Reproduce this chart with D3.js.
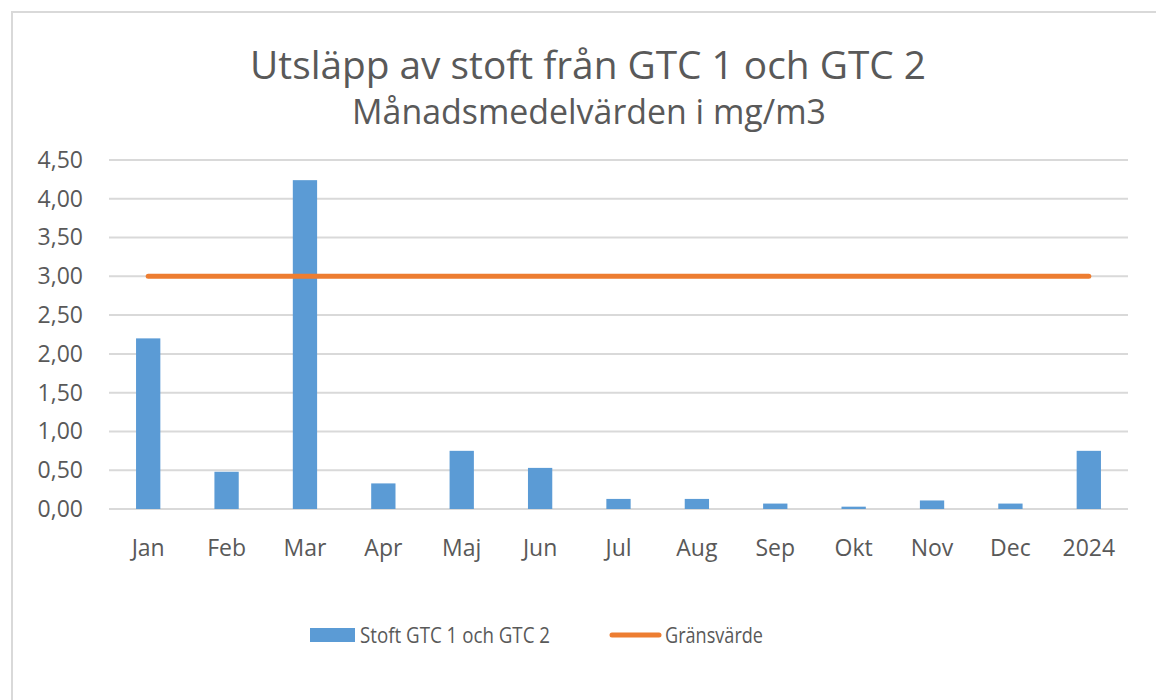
<!DOCTYPE html>
<html>
<head>
<meta charset="utf-8">
<script src="https://cdn.jsdelivr.net/npm/d3@7"></script>
<style>
  body { margin: 0; background: #fff; }
  text { font-family: "Open Sans", "Liberation Sans", sans-serif; fill: #595959; }
</style>
</head>
<body>
<svg id="chart" width="1156" height="700"></svg>
<script>
// Data
const months = ['Jan','Feb','Mar','Apr','Maj','Jun','Jul','Aug','Sep','Okt','Nov','Dec','2024'];
const stoft = [2.20, 0.48, 4.24, 0.33, 0.75, 0.53, 0.13, 0.13, 0.07, 0.03, 0.11, 0.07, 0.75];
const gransvarde = [3,3,3,3,3,3,3,3,3,3,3,3,3];
const yTicks = [0, 0.5, 1, 1.5, 2, 2.5, 3, 3.5, 4, 4.5];

const svg = d3.select('#chart');
const m = {top:160, right:28, bottom:191, left:109},
      w = 1156 - m.left - m.right,
      h = 700 - m.top - m.bottom;

// chart frame
svg.append('rect').attr('x',12).attr('y',12).attr('width',1160).attr('height',700)
  .attr('fill','#fff').attr('stroke','#d9d9d9').attr('stroke-width',2);

// make a text span the width seen in the reference
function fitText(sel, targetW) {
  const len = sel.node().getComputedTextLength();
  const fs = parseFloat(sel.attr('font-size'));
  sel.attr('font-size', fs * targetW / len);
}
function squeeze(sel, targetW) {
  const len = sel.node().getComputedTextLength();
  if (len > targetW) sel.attr('textLength', targetW).attr('lengthAdjust', 'spacingAndGlyphs');
}
const t1 = svg.append('text').attr('x',588).attr('y',79).attr('text-anchor','middle')
  .attr('font-size',36).text('Utsläpp av stoft från GTC 1 och GTC 2');
fitText(t1, 676);
const t2 = svg.append('text').attr('x',589).attr('y',124).attr('text-anchor','middle')
  .attr('font-size',28).text('Månadsmedelvärden i mg/m3');
fitText(t2, 474);

const g = svg.append('g').attr('transform',`translate(${m.left},${m.top})`);
const x = d3.scaleBand().domain(months).range([0,w]).paddingInner(0.69).paddingOuter(0.345);
const xc = d3.scaleBand().domain(months).range([0,w]);
const y = d3.scaleLinear().domain([0,4.5]).range([h,0]);
const fmt = d => d3.format('.2f')(d).replace('.', ',');

// gridlines
g.append('g').selectAll('line').data(yTicks).enter().append('line')
  .attr('x1',0).attr('x2',w).attr('y1',d=>y(d)).attr('y2',d=>y(d))
  .attr('stroke','#d9d9d9').attr('stroke-width',2);

// y axis labels
const yAxis = g.append('g').call(d3.axisLeft(y).tickValues(yTicks).tickFormat(fmt).tickSize(0).tickPadding(26));
yAxis.select('.domain').remove();
yAxis.selectAll('text').attr('font-size',23).attr('fill','#595959')
  .style('font-family','"Open Sans", "Liberation Sans", sans-serif');

// x axis labels
const xAxis = g.append('g').attr('transform',`translate(0,${h})`)
  .call(d3.axisBottom(xc).tickSize(0).tickPadding(31));
xAxis.select('.domain').remove();
xAxis.selectAll('text').attr('font-size',23).attr('fill','#595959')
  .style('font-family','"Open Sans", "Liberation Sans", sans-serif');

// bars
g.selectAll('rect.bar').data(stoft).enter().append('rect').attr('class','bar')
  .attr('x',(d,i)=>x(months[i])).attr('y',d=>y(d))
  .attr('width',x.bandwidth()).attr('height',d=>h-y(d))
  .attr('fill','#5b9bd5');

// limit line
const line = d3.line().x((d,i)=>xc(months[i]) + xc.bandwidth()/2).y(d=>y(d));
g.append('path').datum(gransvarde).attr('d',line)
  .attr('fill','none').attr('stroke','#ed7d31').attr('stroke-width',5).attr('stroke-linecap','round');

// legend
const lg = svg.append('g');
lg.append('rect').attr('x',310).attr('y',628).attr('width',45).attr('height',14).attr('fill','#5b9bd5');
const l1 = lg.append('text').attr('x',360).attr('y',643).attr('font-size',22).text('Stoft GTC 1 och GTC 2');
squeeze(l1, 190);
lg.append('line').attr('x1',612).attr('x2',659).attr('y1',635).attr('y2',635)
  .attr('stroke','#ed7d31').attr('stroke-width',5).attr('stroke-linecap','round');
const l2 = lg.append('text').attr('x',665).attr('y',643).attr('font-size',22).text('Gränsvärde');
squeeze(l2, 98);
</script>
</body>
</html>
